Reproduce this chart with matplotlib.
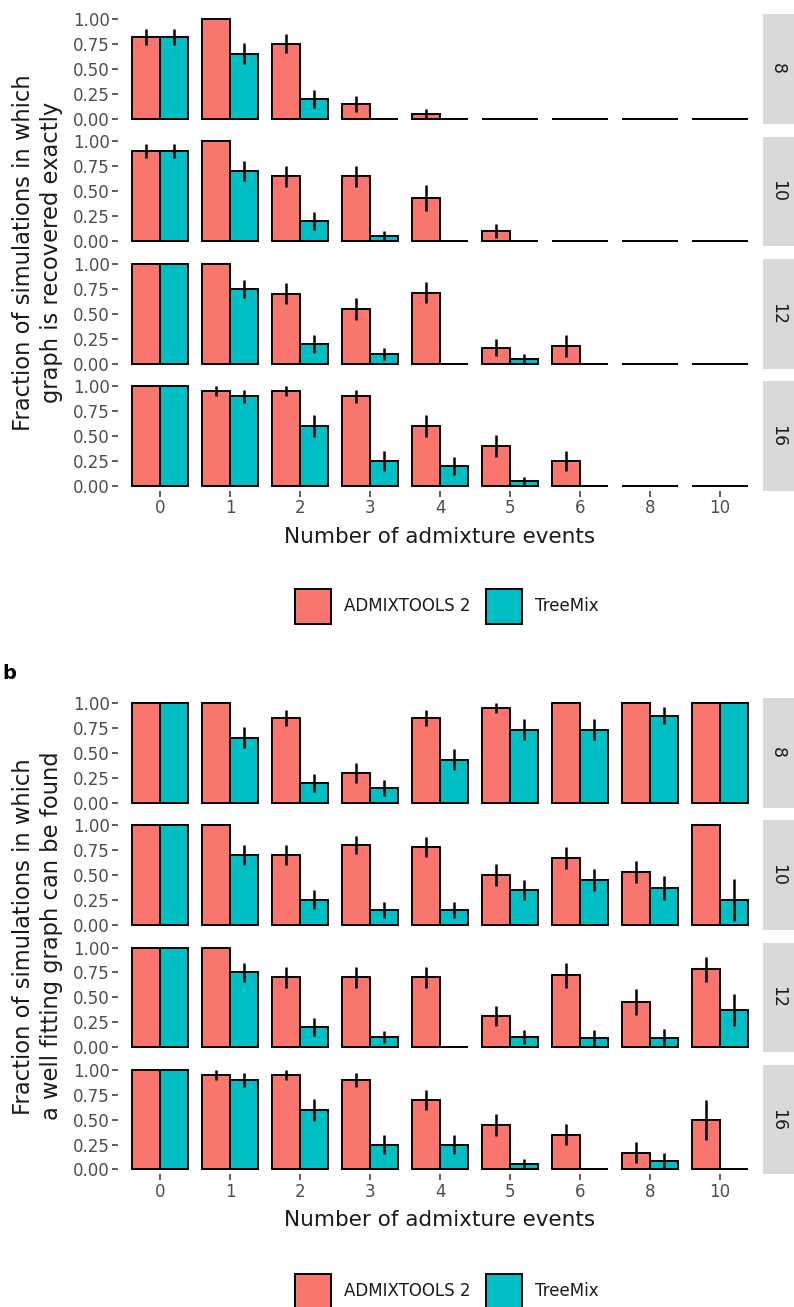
import matplotlib
matplotlib.use("Agg")
import matplotlib.pyplot as plt
from matplotlib.patches import Patch
import numpy as np

# admixture events on the x axis, one facet row per number of populations
events = [0, 1, 2, 3, 4, 5, 6, 8, 10]
n_pops = ["8", "10", "12", "16"]
methods = ["ADMIXTOOLS 2", "TreeMix"]

# panel a: graph recovered exactly
exact_adm = [
    [0.82, 1.00, 0.75, 0.15, 0.05, 0.00, 0.00, 0.00, 0.00],
    [0.90, 1.00, 0.65, 0.65, 0.43, 0.10, 0.00, 0.00, 0.00],
    [1.00, 1.00, 0.70, 0.55, 0.71, 0.16, 0.18, 0.00, 0.00],
    [1.00, 0.95, 0.95, 0.90, 0.60, 0.40, 0.25, 0.00, 0.00],
]
exact_adm_err = [
    [0.08, 0.00, 0.095, 0.08, 0.05, 0.00, 0.00, 0.00, 0.00],
    [0.07, 0.00, 0.105, 0.105, 0.13, 0.067, 0.00, 0.00, 0.00],
    [0.00, 0.00, 0.105, 0.11, 0.107, 0.085, 0.11, 0.00, 0.00],
    [0.00, 0.05, 0.05, 0.067, 0.11, 0.11, 0.097, 0.00, 0.00],
]
exact_tm = [
    [0.82, 0.65, 0.20, 0.00, 0.00, 0.00, 0.00, 0.00, 0.00],
    [0.90, 0.70, 0.20, 0.05, 0.00, 0.00, 0.00, 0.00, 0.00],
    [1.00, 0.75, 0.20, 0.10, 0.00, 0.05, 0.00, 0.00, 0.00],
    [1.00, 0.90, 0.60, 0.25, 0.20, 0.05, 0.00, 0.00, 0.00],
]
exact_tm_err = [
    [0.08, 0.105, 0.09, 0.00, 0.00, 0.00, 0.00, 0.00, 0.00],
    [0.07, 0.10, 0.09, 0.05, 0.00, 0.00, 0.00, 0.00, 0.00],
    [0.00, 0.093, 0.09, 0.06, 0.00, 0.05, 0.00, 0.00, 0.00],
    [0.00, 0.067, 0.11, 0.097, 0.09, 0.04, 0.00, 0.00, 0.00],
]

# panel b: a well fitting graph can be found
fit_adm = [
    [1.00, 1.00, 0.85, 0.30, 0.85, 0.95, 1.00, 1.00, 1.00],
    [1.00, 1.00, 0.70, 0.80, 0.78, 0.50, 0.67, 0.53, 1.00],
    [1.00, 1.00, 0.70, 0.70, 0.70, 0.31, 0.72, 0.45, 0.78],
    [1.00, 0.95, 0.95, 0.90, 0.70, 0.45, 0.35, 0.17, 0.50],
]
fit_adm_err = [
    [0.00, 0.00, 0.08, 0.10, 0.08, 0.05, 0.00, 0.00, 0.00],
    [0.00, 0.00, 0.10, 0.09, 0.10, 0.11, 0.11, 0.11, 0.00],
    [0.00, 0.00, 0.104, 0.104, 0.108, 0.10, 0.13, 0.13, 0.13],
    [0.00, 0.05, 0.05, 0.067, 0.10, 0.11, 0.107, 0.107, 0.20],
]
fit_tm = [
    [1.00, 0.65, 0.20, 0.15, 0.43, 0.73, 0.73, 0.87, 1.00],
    [1.00, 0.70, 0.25, 0.15, 0.15, 0.35, 0.45, 0.37, 0.25],
    [1.00, 0.75, 0.20, 0.10, 0.00, 0.10, 0.09, 0.09, 0.37],
    [1.00, 0.90, 0.60, 0.25, 0.25, 0.05, 0.00, 0.08, 0.00],
]
fit_tm_err = [
    [0.00, 0.104, 0.09, 0.08, 0.107, 0.105, 0.105, 0.085, 0.00],
    [0.00, 0.10, 0.095, 0.08, 0.08, 0.10, 0.115, 0.12, 0.21],
    [0.00, 0.097, 0.09, 0.06, 0.00, 0.07, 0.08, 0.09, 0.16],
    [0.00, 0.067, 0.11, 0.10, 0.094, 0.05, 0.00, 0.08, 0.00],
]

adm_col = "#F8766D"
tm_col = "#00BFC4"

W, H = 794, 1307
fig = plt.figure(figsize=(W / 100, H / 100), dpi=100)
fig.patch.set_facecolor("white")


def px_axes(left, top, width, height):
    return fig.add_axes([left / W, 1 - (top + height) / H, width / W, height / H])


def draw_panel(top0, step, adm, adm_err, tm, tm_err, ylabel, xlab_y, legend_y):
    x = np.arange(len(events))
    for i, n in enumerate(n_pops):
        top = top0 + i * step
        ax = px_axes(118, top, 644, 109.5)
        ax.bar(x - 0.2, adm[i], 0.4, color=adm_col, edgecolor="black", linewidth=1.4)
        ax.bar(x + 0.2, tm[i], 0.4, color=tm_col, edgecolor="black", linewidth=1.4)
        ax.errorbar(x - 0.2, adm[i], yerr=adm_err[i], fmt="none", ecolor="black", elinewidth=1.8, capsize=0)
        ax.errorbar(x + 0.2, tm[i], yerr=tm_err[i], fmt="none", ecolor="black", elinewidth=1.8, capsize=0)
        ax.set_xlim(-0.6, len(events) - 0.4)
        ax.set_ylim(-0.05, 1.05)
        ax.set_yticks([0, 0.25, 0.5, 0.75, 1.0])
        ax.set_yticklabels(["0.00", "0.25", "0.50", "0.75", "1.00"])
        ax.set_xticks(x)
        for s in ax.spines.values():
            s.set_visible(False)
        ax.tick_params(axis="both", length=4, width=1.1, color="#333333", pad=2,
                       labelsize=12, labelcolor="#4D4D4D")
        if i < len(n_pops) - 1:
            ax.tick_params(axis="x", length=0, labelbottom=False)
        else:
            ax.set_xticklabels([str(e) for e in events])

        # facet strip on the right
        sx = px_axes(763, top, 40, 109.5)
        sx.set_facecolor("#D9D9D9")
        sx.set_xticks([])
        sx.set_yticks([])
        for s in sx.spines.values():
            s.set_visible(False)
        sx.text(15 / 40, 0.5, n, transform=sx.transAxes, rotation=-90,
                ha="center", va="center", fontsize=12.5, color="#1A1A1A")

    mid = top0 + (3 * step + 109.5) / 2
    fig.text(37.5 / W, 1 - mid / H, ylabel, rotation=90, ha="center", va="center",
             fontsize=16.3, color="#1A1A1A", linespacing=1.25)
    fig.text(440 / W, 1 - xlab_y / H, "Number of admixture events", ha="center", va="center",
             fontsize=15.5, color="#1A1A1A")

    handles = [Patch(facecolor=adm_col, edgecolor="black", linewidth=1.4),
               Patch(facecolor=tm_col, edgecolor="black", linewidth=1.4)]
    fig.legend(handles, methods, loc="center", bbox_to_anchor=(447 / W, 1 - legend_y / H),
               ncol=2, frameon=False, fontsize=12, handlelength=2.15, handleheight=2.8,
               handletextpad=0.8, columnspacing=0.9, labelcolor="#1A1A1A")


draw_panel(14, 122.5, exact_adm, exact_adm_err, exact_tm, exact_tm_err,
           "Fraction of simulations in which\ngraph is recovered exactly", 537, 606.5)
draw_panel(698, 122.3, fit_adm, fit_adm_err, fit_tm, fit_tm_err,
           "Fraction of simulations in which\na well fitting graph can be found", 1220, 1291)

fig.text(2 / W, 1 - 674 / H, "b", fontsize=14, fontweight="bold", ha="left", va="center")

fig.savefig("out.png", dpi=100)
